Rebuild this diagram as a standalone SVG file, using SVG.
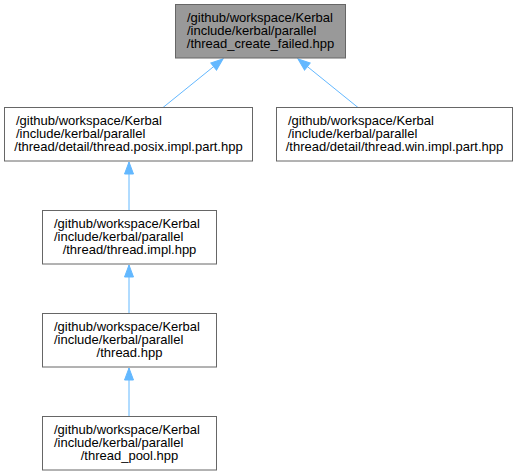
<svg xmlns="http://www.w3.org/2000/svg" width="517" height="476" viewBox="0 0 517 476">
<style>
.n rect{fill:#ffffff;stroke:#666666;stroke-width:1}
.n.cur rect{fill:#999999}
.n text{font-family:"Liberation Sans",Arial,sans-serif;font-size:13px;fill:#000000}
.n text.c{text-anchor:middle}
.e line{stroke:#63b8ff;stroke-width:1;fill:none}
</style>
<defs>
<marker id="ah" markerUnits="userSpaceOnUse" markerWidth="14" markerHeight="11" refX="12" refY="4.5" orient="auto" viewBox="-1 -1 14 11">
<path d="M0,0 L12,4.5 L0,9 Z" fill="#63b8ff" stroke="#63b8ff" stroke-width="1"/>
</marker>
</defs>
<g id="connectors" class="e">
<line x1="163" y1="107.5" x2="223" y2="59" marker-end="url(#ah)"/>
<line x1="358" y1="107.5" x2="298" y2="59" marker-end="url(#ah)"/>
<line x1="129" y1="210.5" x2="129" y2="162" marker-end="url(#ah)"/>
<line x1="129" y1="313.5" x2="129" y2="265" marker-end="url(#ah)"/>
<line x1="129" y1="416.5" x2="129" y2="368" marker-end="url(#ah)"/>
</g>
<g id="node1" class="n cur">
<rect x="175.5" y="4.5" width="170" height="53.5"/>
<text x="187" y="21.7">/github/workspace/Kerbal</text>
<text x="187" y="35">/include/kerbal/parallel</text>
<text class="c" x="260.5" y="48.3">/thread_create_failed.hpp</text>
</g>
<g id="node2" class="n">
<rect x="4.5" y="107.5" width="248" height="53.5"/>
<text x="16" y="124.7">/github/workspace/Kerbal</text>
<text x="16" y="138">/include/kerbal/parallel</text>
<text class="c" x="128.5" y="151.3">/thread/detail/thread.posix.impl.part.hpp</text>
</g>
<g id="node3" class="n">
<rect x="276.5" y="107.5" width="236" height="53.5"/>
<text x="288" y="124.7">/github/workspace/Kerbal</text>
<text x="288" y="138">/include/kerbal/parallel</text>
<text class="c" x="394.5" y="151.3">/thread/detail/thread.win.impl.part.hpp</text>
</g>
<g id="node4" class="n">
<rect x="42.5" y="210.5" width="174" height="53.5"/>
<text x="54" y="227.7">/github/workspace/Kerbal</text>
<text x="54" y="241">/include/kerbal/parallel</text>
<text class="c" x="129.5" y="254.3">/thread/thread.impl.hpp</text>
</g>
<g id="node5" class="n">
<rect x="42.5" y="313.5" width="174" height="53.5"/>
<text x="54" y="330.7">/github/workspace/Kerbal</text>
<text x="54" y="344">/include/kerbal/parallel</text>
<text class="c" x="129.5" y="357.3">/thread.hpp</text>
</g>
<g id="node6" class="n">
<rect x="42.5" y="416.5" width="174" height="53.5"/>
<text x="54" y="433.7">/github/workspace/Kerbal</text>
<text x="54" y="447">/include/kerbal/parallel</text>
<text class="c" x="129.5" y="460.3">/thread_pool.hpp</text>
</g>
</svg>
